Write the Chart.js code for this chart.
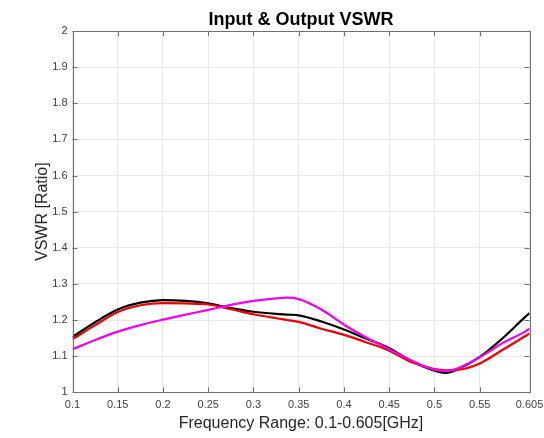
<!DOCTYPE html>
<html>
<head>
<meta charset="utf-8">
<script src="https://cdn.jsdelivr.net/npm/chart.js@4.4.1/dist/chart.umd.min.js"></script>
<style>
  html, body { margin: 0; padding: 0; background: #fff; }
  #wrap { width: 544px; height: 438px; }
</style>
</head>
<body>
<div id="wrap"><canvas id="vswr"></canvas></div>
<script>
// Frequência (GHz) e valores
const freq = [0.1, 0.125, 0.15, 0.175, 0.2, 0.225, 0.25, 0.275, 0.3, 0.325, 0.3375, 0.35, 0.375,
  0.4, 0.425, 0.45, 0.475, 0.5, 0.5125, 0.525, 0.55, 0.575, 0.6, 0.605];
const vswrBlack = [1.153, 1.194, 1.229, 1.248, 1.255, 1.253, 1.246, 1.233, 1.223, 1.217, 1.215, 1.213, 1.196,
  1.174, 1.148, 1.122, 1.086, 1.060, 1.054, 1.063, 1.098, 1.149, 1.208, 1.219];
const vswrRed = [1.147, 1.186, 1.222, 1.241, 1.247, 1.246, 1.243, 1.230, 1.216, 1.205, 1.200, 1.195, 1.176,
  1.159, 1.138, 1.115, 1.083, 1.064, 1.061, 1.062, 1.080, 1.117, 1.155, 1.163];
const vswrMagenta = [1.119, 1.145, 1.168, 1.186, 1.201, 1.215, 1.228, 1.242, 1.253, 1.260, 1.262, 1.258, 1.229,
  1.187, 1.151, 1.119, 1.087, 1.062, 1.059, 1.066, 1.097, 1.136, 1.168, 1.176];

const xTicks = [0.1, 0.15, 0.2, 0.25, 0.3, 0.35, 0.4, 0.45, 0.5, 0.55, 0.605];
const yTicks = [1, 1.1, 1.2, 1.3, 1.4, 1.5, 1.6, 1.7, 1.8, 1.9, 2];

const axisColor = "#707070";
const font = "'Liberation Sans', Arial, Helvetica, sans-serif";

function pontos(ys) {
  return freq.map((f, i) => ({ x: f, y: ys[i] }));
}

// Caixa do eixo, ticks para dentro e título (estilo MATLAB)
const boxPlugin = {
  id: "box",
  afterDraw(chart) {
    const { ctx, chartArea: a, scales } = chart;
    ctx.save();
    ctx.strokeStyle = axisColor;
    ctx.lineWidth = 1;
    ctx.beginPath();
    scales.x.ticks.forEach(t => {
      const px = Math.round(scales.x.getPixelForValue(t.value)) + 0.5;
      ctx.moveTo(px, a.bottom); ctx.lineTo(px, a.bottom - 5);
      ctx.moveTo(px, a.top); ctx.lineTo(px, a.top + 5);
    });
    scales.y.ticks.forEach(t => {
      const py = Math.round(scales.y.getPixelForValue(t.value)) + 0.5;
      ctx.moveTo(a.left, py); ctx.lineTo(a.left + 5, py);
      ctx.moveTo(a.right, py); ctx.lineTo(a.right - 5, py);
    });
    ctx.stroke();
    ctx.strokeRect(Math.round(a.left) + 0.5, Math.round(a.top) + 0.5,
      Math.round(a.right - a.left), Math.round(a.bottom - a.top));

    ctx.fillStyle = "#000";
    ctx.font = "bold 18px " + font;
    ctx.textAlign = "center";
    ctx.textBaseline = "alphabetic";
    ctx.fillText("Input & Output VSWR", (a.left + a.right) / 2, a.top - 6);
    ctx.restore();
  }
};

new Chart(document.getElementById("vswr"), {
  type: "line",
  data: {
    datasets: [
      { data: pontos(vswrBlack), borderColor: "#000000", order: 3 },
      { data: pontos(vswrRed), borderColor: "#f00000", order: 2 },
      { data: pontos(vswrMagenta), borderColor: "#f000f0", order: 1 }
    ]
  },
  options: {
    responsive: true,
    maintainAspectRatio: false,
    animation: false,
    layout: { padding: { left: 33, right: 14.5, top: 31, bottom: 0 } },
    elements: {
      point: { radius: 0 },
      line: { borderWidth: 2.2, tension: 0.4, cubicInterpolationMode: "monotone" }
    },
    plugins: {
      legend: { display: false },
      tooltip: { enabled: false }
    },
    scales: {
      x: {
        type: "linear",
        min: 0.1,
        max: 0.605,
        afterBuildTicks: s => { s.ticks = xTicks.map(v => ({ value: v })); },
        afterFit: s => { s.height = 45.7; s.paddingLeft = 0; s.paddingRight = 0; },
        ticks: {
          color: "#404040",
          font: { family: font, size: 11 },
          padding: 6,
          maxRotation: 0,
          autoSkip: false,
          callback: v => String(v)
        },
        grid: { color: "#e8e8e8", drawTicks: false },
        border: { display: false },
        title: {
          display: true,
          text: "Frequency Range: 0.1-0.605[GHz]",
          color: "#262626",
          font: { family: font, size: 16 },
          padding: { top: 0, bottom: 5 }
        }
      },
      y: {
        type: "linear",
        min: 1,
        max: 2,
        afterBuildTicks: s => { s.ticks = yTicks.map(v => ({ value: v })); },
        afterFit: s => { s.width = 39.5; s.paddingTop = 0; s.paddingBottom = 0; },
        ticks: {
          color: "#404040",
          font: { family: font, size: 11 },
          padding: 5,
          autoSkip: false,
          callback: v => String(v)
        },
        grid: { color: "#e8e8e8", drawTicks: false },
        border: { display: false },
        title: {
          display: true,
          text: "VSWR [Ratio]",
          color: "#262626",
          font: { family: font, size: 16 },
          padding: 0
        }
      }
    }
  },
  plugins: [boxPlugin]
});
</script>
</body>
</html>
